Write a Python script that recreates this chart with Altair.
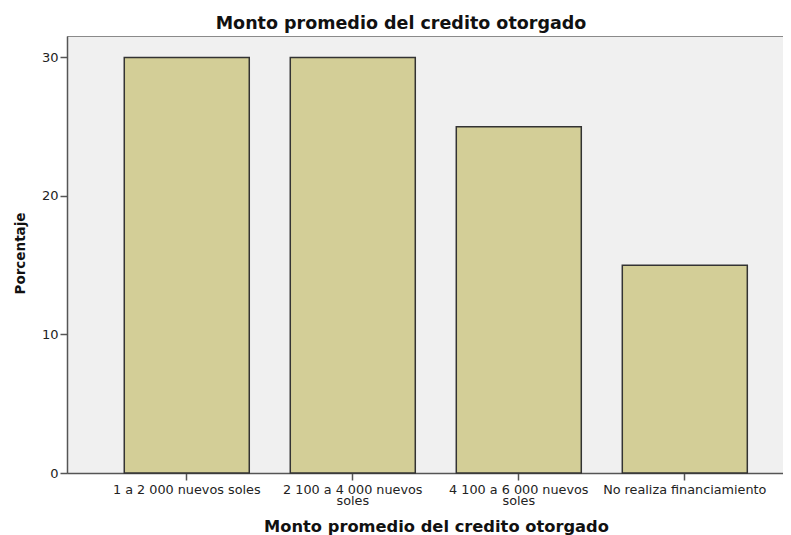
import altair as alt
import pandas as pd

categories = ["1 a 2 000 nuevos soles", "2 100 a 4 000 nuevos soles",
              "4 100 a 6 000 nuevos soles", "No realiza financiamiento"]
porcentaje = [30, 30, 25, 15]
y_ticks = [0, 10, 20, 30]

df = pd.DataFrame({"cat": categories, "pct": porcentaje})

FONT = "DejaVu Sans"

label_expr = ("length(datum.label) > 22 && indexof(datum.label, ' soles') > 0 "
              "? [replace(datum.label, ' soles', ''), 'soles'] : datum.label")

chart = alt.Chart(df).mark_bar(
    fill="#D3CE97", stroke="#333333", strokeWidth=1.5
).encode(
    x=alt.X("cat:N", sort=categories,
            scale=alt.Scale(paddingInner=0.247, paddingOuter=0.28, align=0.616),
            axis=alt.Axis(title="Monto promedio del credito otorgado", labelAngle=0,
                          labelExpr=label_expr, labelFont=FONT, labelFontSize=12.8,
                          labelColor="#222222", labelLineHeight=11, labelPadding=3,
                          tickSize=7, tickColor="#555555", tickWidth=1.5,
                          domainColor="#555555", domainWidth=1.5,
                          titleFont=FONT, titleFontSize=16.3, titleFontWeight="bold",
                          titleColor="#111111", titleBaseline="alphabetic",
                          titleX=369, titleY=58, titleAnchor="middle")),
    y=alt.Y("pct:Q", scale=alt.Scale(domain=[0, 31.55], nice=False),
            axis=alt.Axis(title="Porcentaje", values=y_ticks, grid=False,
                          labelFont=FONT, labelFontSize=13, labelColor="#222222",
                          labelPadding=2, tickSize=7, tickColor="#555555", tickWidth=1.5,
                          domainColor="#555555", domainWidth=1.5,
                          titleFont=FONT, titleFontSize=13.5, titleFontWeight="bold",
                          titleColor="#111111", titleAngle=270, titleBaseline="alphabetic",
                          titleAlign="center", titleX=-43, titleY=217)),
).properties(
    width=716, height=437,
    autosize=alt.AutoSizeParams(type="none"),
    padding={"left": 59, "top": 28, "right": 0, "bottom": 62},
    title=alt.TitleParams("Monto promedio del credito otorgado", font=FONT, fontSize=17.5,
                          fontWeight="bold", color="#111111", anchor="middle",
                          baseline="alphabetic", offset=8, dy=18, dx=-24),
).configure_view(
    fill="#F0F0F0", stroke="#8a8a8a", strokeWidth=1
)

chart.save("out.html", embed_options={"renderer": "svg", "actions": False})
